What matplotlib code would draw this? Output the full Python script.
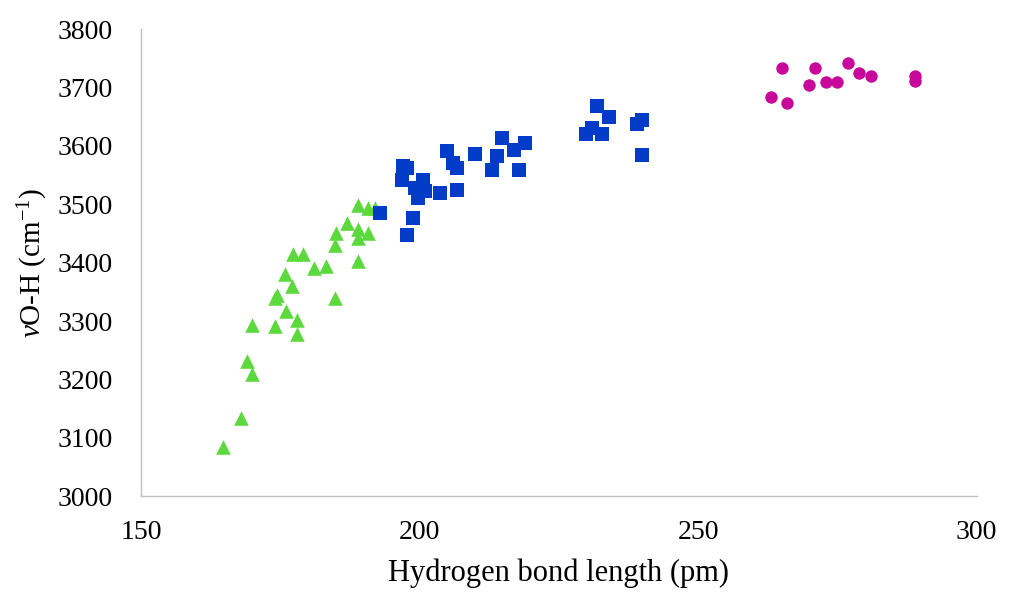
import matplotlib
matplotlib.use("Agg")
import matplotlib.pyplot as plt

plt.rcParams['font.family'] = ['Liberation Serif', 'DejaVu Serif']
plt.rcParams['mathtext.fontset'] = 'custom'
plt.rcParams['mathtext.rm'] = 'Liberation Serif'
plt.rcParams['mathtext.it'] = 'Liberation Serif:italic'

# green triangles
tri_x = [164.8, 167.9, 169.0, 169.9, 170.0, 174.1, 174.1, 174.5, 176.1, 178.0, 178.0,
         175.9, 177.1, 177.3, 179.0, 181.0, 183.2, 184.9, 184.9, 185.0, 186.9,
         188.9, 188.9, 188.9, 188.9, 190.7, 190.7, 192.0]
tri_y = [3085, 3134, 3231, 3209, 3293, 3292, 3340, 3345, 3317, 3301, 3277,
         3381, 3360, 3415, 3415, 3391, 3394, 3339, 3431, 3451, 3468,
         3402, 3498, 3457, 3442, 3451, 3494, 3494]

# blue squares
sq_x = [231.9, 234.0, 231.0, 229.8, 232.8, 239.0, 239.9, 239.9, 214.8, 219.0,
        216.9, 213.9, 210.0, 204.9, 206.0, 206.7, 213.0, 217.8, 197.1, 197.8,
        196.9, 200.7, 199.2, 201.0, 199.8, 203.7, 206.7, 198.9, 197.8, 192.9]
sq_y = [3669, 3649, 3631, 3620, 3620, 3638, 3644, 3585, 3614, 3605,
        3593, 3583, 3587, 3592, 3570, 3563, 3559, 3559, 3566, 3563,
        3542, 3542, 3528, 3523, 3510, 3520, 3524, 3476, 3448, 3485]

# magenta circles
circ_x = [265.1, 271.0, 276.9, 263.0, 266.0, 269.9, 272.9, 275.0, 278.9, 281.0, 288.9, 288.9]
circ_y = [3733, 3733, 3742, 3684, 3674, 3704, 3709, 3709, 3725, 3719, 3712, 3719]

fig = plt.figure(figsize=(10.09, 6.08), dpi=100)
ax = fig.add_axes([0.1397, 0.184, 0.8283, 0.768])

ax.scatter(tri_x, tri_y, marker='^', s=110, color='#5cd93c', linewidths=0, zorder=3)
ax.scatter(sq_x, sq_y, marker='s', s=90, color='#003cc8', linewidths=0, zorder=3)
ax.scatter(circ_x, circ_y, marker='o', s=80, color='#c8089a', linewidths=0, zorder=3)

ax.set_xlim(150, 300)
ax.set_ylim(3000, 3800)
ax.set_xticks([150, 200, 250, 300])
ax.set_yticks(range(3000, 3801, 100))
ax.tick_params(length=0, labelsize=20)
ax.tick_params(axis='y', pad=20)
ax.tick_params(axis='x', pad=17)

for s in ['top', 'right']:
    ax.spines[s].set_visible(False)
for s in ['left', 'bottom']:
    ax.spines[s].set_color('#bfbfbf')
    ax.spines[s].set_linewidth(1.0)

ax.set_xlabel('Hydrogen bond length (pm)', fontsize=22, labelpad=10)
ax.set_ylabel(r'$\it{\nu}$O-H (cm$^{-1}$)', fontsize=21, labelpad=6)

fig.savefig('out.png', dpi=100)
